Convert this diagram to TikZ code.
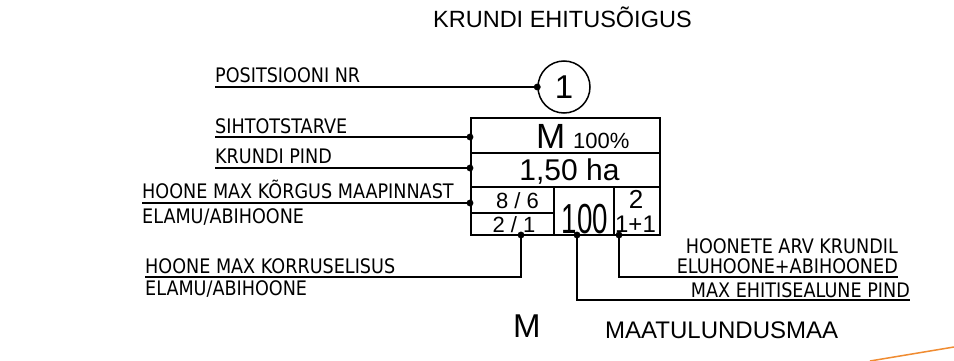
\documentclass[tikz,border=0pt]{standalone}
\usepackage{fontspec}
\usepackage{graphicx}
\setmainfont{Liberation Sans}
\newfontfamily\cadfont[FakeStretch=0.88]{DejaVu Sans}

\begin{document}
\begin{tikzpicture}[x=1pt, y=-1pt,
    lbl/.style={font=\cadfont\fontsize{20}{22}\selectfont, inner sep=0pt},
    cell/.style={inner sep=0pt},
    leader/.style={line width=1.4pt},
    frame/.style={line width=1.6pt},
    dot/.style={fill=black}]
    \useasboundingbox (0,0) rectangle (954,361);

    \coordinate (dSiht) at (470,137);
    \coordinate (dPind) at (470,168);
    \coordinate (dKorg) at (470,203);
    \coordinate (dKorr) at (521,235);
    \coordinate (dEhit) at (577,235);
    \coordinate (dArv) at (619,235);
    \coordinate (cKorr) at (521,277);
    \coordinate (cArv) at (619,277);
    \coordinate (cEhit) at (577,300);

    % title
    \node [cell, anchor=base west, font=\fontsize{23.5}{25}\selectfont] (title) at (433,28) {KRUNDI EHITUSÕIGUS};

    % position number
    \node [circle, draw, line width=1.5pt, minimum size=52pt, inner sep=0pt, font=\fontsize{33}{33}\selectfont] (pos) at (564,87) {1};

    % table
    \draw[frame] (471,118) rectangle (660,235);
    \draw[frame] (471,153) -- (660,153);
    \draw[frame] (471,187) -- (660,187);
    \draw[frame] (554,187) -- (554,235);
    \draw[frame] (614,187) -- (614,235);
    \draw[frame] (471,213) -- (554,213);

    \node [cell, anchor=base west, font=\fontsize{35}{35}\selectfont] (siht) at (536,148) {M};
    \node [cell, anchor=base west, font=\fontsize{22}{22}\selectfont] (osa) at (573,148) {100\%};
    \node [cell, anchor=base, font=\fontsize{30}{30}\selectfont] (pind) at (569.5,180) {1,50 ha};
    \node [cell, anchor=base, font=\fontsize{22}{22}\selectfont] (korg) at (517.5,208) {8 / 6};
    \node [cell, anchor=base, font=\fontsize{22}{22}\selectfont] (korr) at (514,232) {2 / 1};
    \node [cell, anchor=base, font=\fontsize{42}{42}\selectfont] (ehit) at (585,233) {\scalebox{0.66}[1]{100}};
    \node [cell, anchor=base, font=\fontsize{26}{26}\selectfont] (arv) at (636,208) {2};
    \node [cell, anchor=base, font=\fontsize{24}{24}\selectfont] (arvjaot) at (635.5,232) {1+1};

    % labels
    \node [lbl, anchor=base west] (lPos) at (215,83) {POSITSIOONI NR};
    \node [lbl, anchor=base west] (lSiht) at (215,133) {SIHTOTSTARVE};
    \node [lbl, anchor=base west] (lPind) at (215,163) {KRUNDI PIND};
    \node [lbl, anchor=base west] (lKorg) at (142,198) {HOONE MAX KÕRGUS MAAPINNAST};
    \node [lbl, anchor=base west] (lKorg2) at (142,223) {ELAMU/ABIHOONE};
    \node [lbl, anchor=base west] (lKorr) at (145,273) {HOONE MAX KORRUSELISUS};
    \node [lbl, anchor=base west] (lKorr2) at (145,295) {ELAMU/ABIHOONE};
    \node [lbl, anchor=base east] (lArv) at (898,253) {HOONETE ARV KRUNDIL};
    \node [lbl, anchor=base east] (lArv2) at (898,273) {ELUHOONE+ABIHOONED};
    \node [lbl, anchor=base east] (lEhit) at (910,297) {MAX EHITISEALUNE PIND};

    % leaders
    \draw[leader] (lPos.west |- pos.west) -- (pos.west);
    \draw[leader] (lSiht.west |- dSiht) -- (dSiht);
    \draw[leader] (lPind.west |- dPind) -- (dPind);
    \draw[leader] (lKorg.west |- dKorg) -- (dKorg);
    \draw[leader] (lKorr.west |- cKorr) -- (cKorr) -- (dKorr);
    \draw[leader] (dArv) -- (cArv) -- (cArv -| lArv2.east);
    \draw[leader] (dEhit) -- (cEhit) -- (cEhit -| lEhit.east);

    \foreach \d in {dSiht, dPind, dKorg, dKorr, dEhit, dArv, pos.west}
        \filldraw[dot] (\d) circle (3.2pt);

    % land use
    \node [cell, anchor=base west, font=\fontsize{33}{33}\selectfont] (kood) at (513,337) {M};
    \node [cell, anchor=base west, font=\fontsize{24}{24}\selectfont] (nimi) at (605,338) {MAATULUNDUSMAA};

    \draw[line width=1.5pt, color={rgb,255:red,240;green,140;blue,50}] (870,361) -- (954,347);
\end{tikzpicture}
\end{document}
